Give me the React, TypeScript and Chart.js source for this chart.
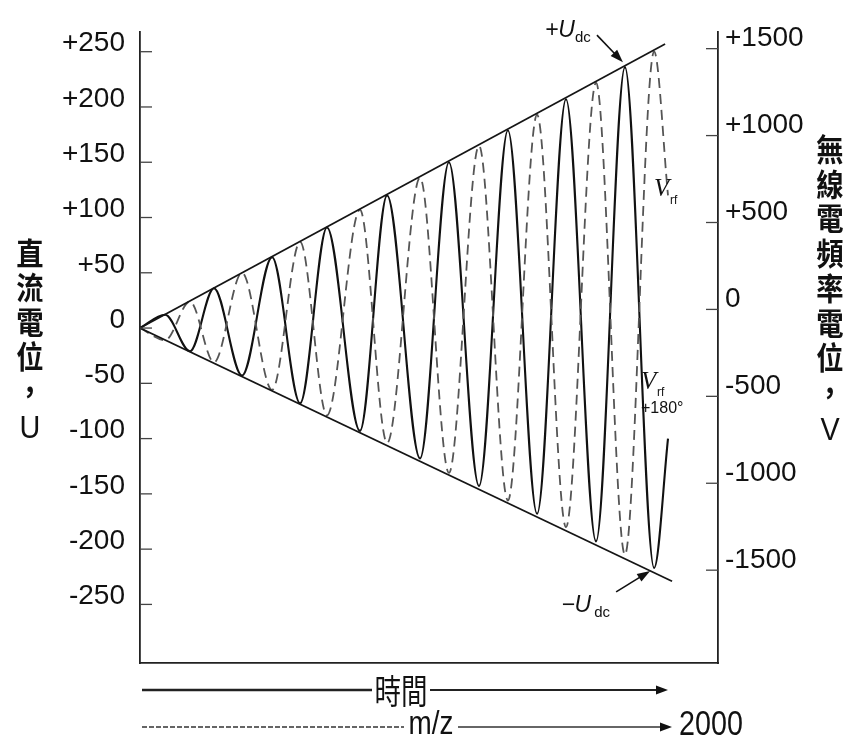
import { useEffect, useRef } from "react";
import { Chart, registerables } from "chart.js";

Chart.register(...registerables);

// m/z positions of the successive extremes of the RF waveform
const mzExtremes = [0, 87, 173, 256, 353, 457, 554, 647, 761, 855, 969, 1069, 1173, 1273, 1374, 1474, 1578, 1678, 1779, 1827];
// V_rf (solid) in DC-potential units (left axis)
const rfSolid = [0, 12, -21, 36, -43, 64, -68, 91, -93, 120, -118, 150, -143, 179, -168, 207, -193, 236, -217, -100];
// V_rf + 180° (dashed)
const rfDashed = [0, -11, 24, -31, 50, -56, 78, -79, 107, -104, 136, -131, 165, -156, 193, -180, 222, -205, 250, 120];
// +U_dc and -U_dc envelope lines
const envTopMz = [0, 1817];
const envTopU = [0, 257];
const envBottomMz = [0, 1841];
const envBottomU = [0, -229];
// axis ticks
const leftTicks = [250, 200, 150, 100, 50, 0, -50, -100, -150, -200, -250];
const rightTicks = [1500, 1000, 500, 0, -500, -1000, -1500];
const leftTitle = ["直", "流", "電", "位", "，", "U"];
const rightTitle = ["無", "線", "電", "頻", "率", "電", "位", "，", "V"];

const NUM_FONT = "'Liberation Sans', Arial, sans-serif";
const CJK_FONT = "'Noto Sans CJK TC', 'Noto Sans CJK SC', sans-serif";

const zip = (xs: number[], ys: number[]) => xs.map((x, i) => ({ x, y: ys[i] }));

function arrow(ctx: CanvasRenderingContext2D, x1: number, y1: number, x2: number, y2: number, head = 11, half = 4) {
  const a = Math.atan2(y2 - y1, x2 - x1);
  ctx.beginPath();
  ctx.moveTo(x1, y1);
  ctx.lineTo(x2 - Math.cos(a) * head * 0.8, y2 - Math.sin(a) * head * 0.8);
  ctx.stroke();
  ctx.beginPath();
  ctx.moveTo(x2, y2);
  ctx.lineTo(x2 - Math.cos(a) * head - Math.sin(a) * half, y2 - Math.sin(a) * head + Math.cos(a) * half);
  ctx.lineTo(x2 - Math.cos(a) * head + Math.sin(a) * half, y2 - Math.sin(a) * head - Math.cos(a) * half);
  ctx.closePath();
  ctx.fill();
}

function squeezedText(ctx: CanvasRenderingContext2D, t: string, x: number, y: number, sx: number) {
  ctx.save();
  ctx.translate(x, y);
  ctx.scale(sx, 1);
  ctx.fillText(t, 0, 0);
  ctx.restore();
}

const decorPlugin = {
  id: "decor",
  afterDraw(chart: any) {
    const { ctx, chartArea, scales } = chart;
    const yL = scales.y;
    const yR = scales.y1;
    const xS = scales.x;
    ctx.save();
    // inward tick marks
    ctx.strokeStyle = "#444";
    ctx.lineWidth = 1.3;
    leftTicks.forEach((v) => {
      const py = yL.getPixelForValue(v);
      ctx.beginPath();
      ctx.moveTo(chartArea.left, py);
      ctx.lineTo(chartArea.left + 12, py);
      ctx.stroke();
    });
    rightTicks.forEach((v) => {
      const py = yR.getPixelForValue(v);
      ctx.beginPath();
      ctx.moveTo(chartArea.right - 12, py);
      ctx.lineTo(chartArea.right, py);
      ctx.stroke();
    });

    // vertical axis titles
    ctx.fillStyle = "#111";
    ctx.textAlign = "center";
    ctx.textBaseline = "middle";
    leftTitle.forEach((c, i) => {
      const latin = c === "U";
      ctx.font = latin ? `32px 'Liberation Sans', sans-serif` : `bold 31px ${CJK_FONT}`;
      squeezedText(ctx, c, 30, 253 + i * 34.5 + (latin ? 4 : 0), latin ? 0.9 : 0.88);
    });
    rightTitle.forEach((c, i) => {
      const latin = c === "V";
      ctx.font = latin ? `32px 'Liberation Sans', sans-serif` : `bold 31px ${CJK_FONT}`;
      squeezedText(ctx, c, 830, 149 + i * 34.75 + (latin ? 4 : 0), latin ? 0.9 : 0.88);
    });

    // annotations
    ctx.strokeStyle = "#111";
    ctx.fillStyle = "#111";
    const pTop = { x: xS.getPixelForValue(mzExtremes[17]), y: yL.getPixelForValue(rfSolid[17]) };
    const pBot = { x: xS.getPixelForValue(mzExtremes[18]), y: yL.getPixelForValue(rfSolid[18]) };
    ctx.textAlign = "left";
    ctx.textBaseline = "alphabetic";
    ctx.font = `italic 23px 'Liberation Sans', sans-serif`;
    ctx.fillText("+U", pTop.x - 80, pTop.y - 30);
    ctx.font = `15px 'Liberation Sans', sans-serif`;
    ctx.fillText("dc", pTop.x - 50, pTop.y - 25);
    ctx.lineWidth = 1.6;
    arrow(ctx, pTop.x - 28, pTop.y - 32, pTop.x - 2, pTop.y - 5, 13, 4.5);

    ctx.font = `italic 23px 'Liberation Sans', sans-serif`;
    ctx.fillText("−U", pBot.x - 93, pBot.y + 44);
    ctx.font = `15px 'Liberation Sans', sans-serif`;
    ctx.fillText("dc", pBot.x - 60, pBot.y + 49);
    arrow(ctx, pBot.x - 38, pBot.y + 24, pBot.x - 4, pBot.y + 3, 13, 4.5);

    ctx.font = `italic 25px 'Liberation Serif', serif`;
    ctx.fillText("V", 654, 196);
    ctx.font = `12px 'Liberation Sans', sans-serif`;
    ctx.fillText("rf", 670, 204);
    ctx.font = `italic 25px 'Liberation Serif', serif`;
    ctx.fillText("V", 641, 389);
    ctx.font = `12px 'Liberation Sans', sans-serif`;
    ctx.fillText("rf", 657, 396);
    ctx.font = `16px 'Liberation Sans', sans-serif`;
    ctx.fillText("+180°", 641, 413);

    // bottom arrows
    const r1 = 690;
    const r2 = 727;
    ctx.strokeStyle = "#222";
    ctx.lineWidth = 2.6;
    ctx.beginPath();
    ctx.moveTo(142, r1);
    ctx.lineTo(372, r1);
    ctx.stroke();
    ctx.lineWidth = 1.8;
    arrow(ctx, 430, r1, 668, r1, 12, 4.5);
    ctx.textAlign = "center";
    ctx.textBaseline = "middle";
    ctx.font = `34px ${CJK_FONT}`;
    squeezedText(ctx, "時間", 401, r1 + 1, 0.78);

    ctx.strokeStyle = "#333";
    ctx.lineWidth = 1.4;
    ctx.setLineDash([5, 2]);
    ctx.beginPath();
    ctx.moveTo(142, r2);
    ctx.lineTo(404, r2);
    ctx.stroke();
    ctx.setLineDash([]);
    arrow(ctx, 458, r2, 672, r2, 12, 4.5);
    ctx.font = `34px ${NUM_FONT}`;
    squeezedText(ctx, "m/z", 431, r2 - 2, 0.82);
    ctx.textAlign = "left";
    ctx.font = `35px ${NUM_FONT}`;
    squeezedText(ctx, "2000", 679, r2 - 2, 0.82);
    ctx.restore();
  },
};

export default function App() {
  const ref = useRef<HTMLCanvasElement | null>(null);
  useEffect(() => {
    document.body.style.margin = "0";
    const canvas = ref.current;
    if (!canvas) return;
    const tickFont = { family: NUM_FONT, size: 28 };
    const chart = new Chart(canvas, {
      type: "line",
      data: {
        datasets: [
          { label: "+Udc", data: zip(envTopMz, envTopU), borderColor: "#151515", borderWidth: 1.7, pointRadius: 0, yAxisID: "y" },
          { label: "-Udc", data: zip(envBottomMz, envBottomU), borderColor: "#151515", borderWidth: 1.7, pointRadius: 0, yAxisID: "y" },
          { label: "Vrf+180", data: zip(mzExtremes, rfDashed), borderColor: "#555", borderWidth: 1.8, borderDash: [10, 6], pointRadius: 0, cubicInterpolationMode: "monotone", yAxisID: "y" },
          { label: "Vrf", data: zip(mzExtremes, rfSolid), borderColor: "#111", borderWidth: 2.1, pointRadius: 0, cubicInterpolationMode: "monotone", yAxisID: "y" },
        ],
      },
      options: {
        animation: false,
        responsive: false,
        layout: { padding: { top: 28, left: 0, right: 0, bottom: 0 } },
        plugins: { legend: { display: false }, tooltip: { enabled: false } },
        scales: {
          x: {
            type: "linear",
            min: 0,
            max: 2000,
            ticks: { display: false },
            grid: { drawOnChartArea: false, drawTicks: false },
            border: { color: "#222", width: 1.8 },
            afterFit: (s: any) => { s.height = 86; },
          },
          y: {
            type: "linear",
            position: "left",
            min: -303,
            max: 268,
            afterBuildTicks: (s: any) => { s.ticks = leftTicks.map((v) => ({ value: v })); },
            ticks: {
              callback: (v: any) => (Number(v) > 0 ? "+" + v : String(v)),
              font: tickFont,
              color: "#111",
              padding: 15,
              labelOffset: -8,
            },
            grid: { drawOnChartArea: false, drawTicks: false },
            border: { color: "#222", width: 1.8 },
            afterFit: (s: any) => { s.width = 140; },
          },
          y1: {
            type: "linear",
            position: "right",
            min: -2034,
            max: 1597,
            afterBuildTicks: (s: any) => { s.ticks = rightTicks.map((v) => ({ value: v })); },
            ticks: {
              callback: (v: any) => (Number(v) > 0 ? "+" + v : String(v)),
              font: tickFont,
              color: "#111",
              padding: 7,
              labelOffset: -10,
            },
            grid: { drawOnChartArea: false, drawTicks: false },
            border: { color: "#222", width: 1.8 },
            afterFit: (s: any) => { s.width = 130; },
          },
        },
      },
      plugins: [decorPlugin],
    } as any);
    return () => chart.destroy();
  }, []);
  return (
    <div style={{ width: 848, height: 749, background: "#fff" }}>
      <canvas ref={ref} width={848} height={749} style={{ display: "block", width: 848, height: 749 }} />
    </div>
  );
}
